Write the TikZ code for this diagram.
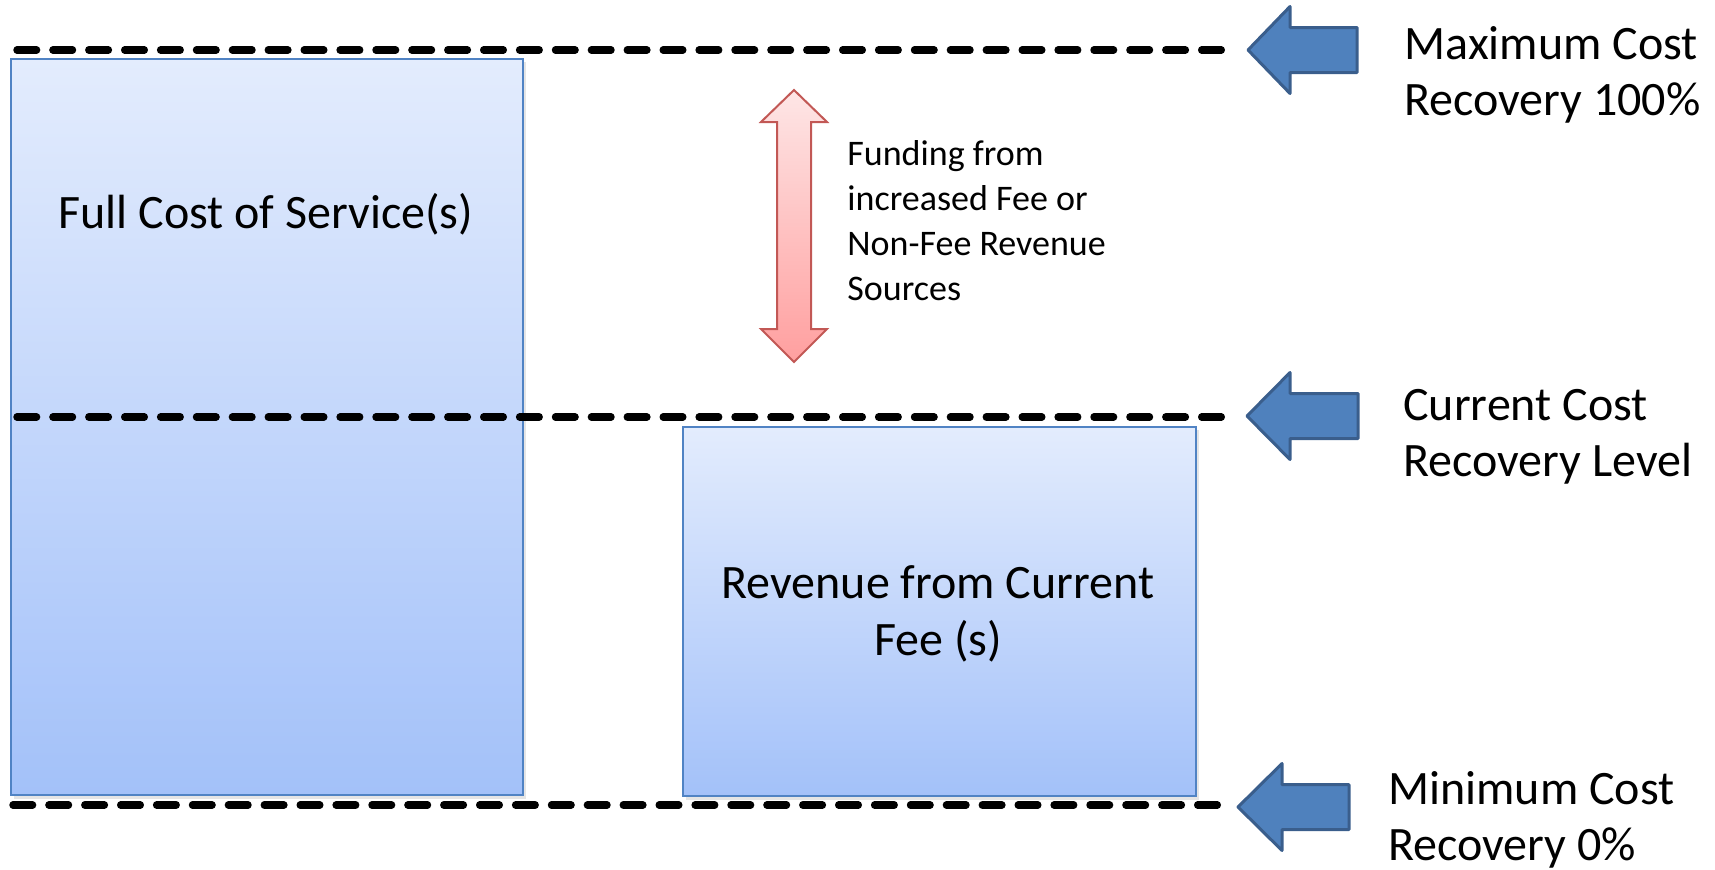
\documentclass[tikz,border=0pt]{standalone}
\usepackage{fontspec}
\setmainfont{Carlito}
\definecolor{boxtop}{HTML}{E3ECFD}
\definecolor{boxbot}{HTML}{A3C1F9}
\definecolor{boxedge}{HTML}{5083C4}
\definecolor{redtop}{HTML}{FEE6E6}
\definecolor{redbot}{HTML}{FF9F9F}
\definecolor{rededge}{HTML}{C25855}
\definecolor{bluefill}{HTML}{4F81BD}
\definecolor{blueedge}{HTML}{3A5E8C}
\tikzset{
  costbox/.style={draw=boxedge, line width=1.2pt, top color=boxtop, bottom color=boxbot, inner sep=0pt, anchor=north west},
  boxshadow/.style={fill=black, opacity=0.10},
  levelline/.style={line width=3.7pt, line cap=round, dash pattern=on 9.8pt off 8.15pt},
  bigtext/.style={font=\fontsize{24}{28}\selectfont, inner sep=0pt},
  smalltext/.style={font=\fontsize{18}{22}\selectfont, inner sep=0pt, anchor=base west},
  bluearrow/.style={fill=bluefill, draw=blueedge, line width=1.5pt, line join=round},
  redarrow/.style={draw=rededge, line width=1pt, top color=redtop, bottom color=redbot, line join=miter}
}
\begin{document}
\begin{tikzpicture}[x=0.5pt,y=-0.5pt]
\useasboundingbox (0,0) rectangle (1715,869);

% shadows of boxes
\fill[boxshadow] (14,62) rectangle (526,799);
\fill[boxshadow] (686,430) rectangle (1199,800);

% boxes
\node[costbox, minimum width=256pt, minimum height=368pt] (full) at (10,58) {};
\node[costbox, minimum width=256.5pt, minimum height=184.5pt] (rev) at (682,426) {};

% level lines
\coordinate (maxL) at (17,50);   \coordinate (maxR) at (1232,50);
\coordinate (curL) at (17,417);  \coordinate (curR) at (1234,417);
\coordinate (minL) at (13,805);  \coordinate (minR) at (1228,805);
\draw[levelline] (maxL) -- (maxR);
\draw[levelline] (curL) -- (curR);
\draw[levelline] (minL) -- (minR);

% box texts
\node[bigtext, anchor=base] (fulltxt) at (266,228) {Full Cost of Service(s)};
\node[bigtext, anchor=base] (revtxt1) at (938,598) {Revenue from Current};
\node[bigtext, anchor=base] (revtxt2) at (938,655) {Fee (s)};

% red double arrow
\path[redarrow] (794,90) -- (827,122) -- (811,122) -- (811,329) -- (827,329)
  -- (794,362) -- (761,329) -- (777,329) -- (777,122) -- (761,122) -- cycle;

% funding text
\node[smalltext] (fund1) at (847,165) {Funding from};
\node[smalltext] (fund2) at (847,210) {increased Fee or};
\node[smalltext] (fund3) at (847,255) {Non-Fee Revenue};
\node[smalltext] (fund4) at (847,300) {Sources};

% blue arrows
\draw[bluearrow] (1248,50) -- (1290,6.5) -- (1290,27.5) -- (1357,27.5) -- (1357,72.5)
  -- (1290,72.5) -- (1290,93.5) -- cycle;
\draw[bluearrow] (1247,416) -- (1290,372.5) -- (1290,393.5) -- (1358,393.5) -- (1358,438.5)
  -- (1290,438.5) -- (1290,459.5) -- cycle;
\draw[bluearrow] (1238,807) -- (1282,763.5) -- (1282,784.5) -- (1349,784.5) -- (1349,829.5)
  -- (1282,829.5) -- (1282,850.5) -- cycle;

% level labels
\node[bigtext, anchor=base west] (max1) at (1404,59) {Maximum Cost};
\node[bigtext, anchor=base west] (max2) at (1404,115) {Recovery 100\%};
\node[bigtext, anchor=base west] (cur1) at (1403,420) {Current Cost};
\node[bigtext, anchor=base west] (cur2) at (1403,476) {Recovery Level};
\node[bigtext, anchor=base west] (min1) at (1388,804) {Minimum Cost};
\node[bigtext, anchor=base west] (min2) at (1388,860) {Recovery 0\%};
\end{tikzpicture}
\end{document}
